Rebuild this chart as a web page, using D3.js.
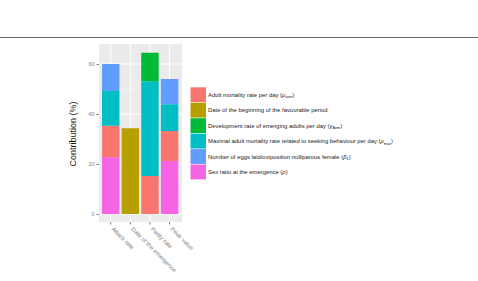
<!DOCTYPE html>
<html>
<head>
<meta charset="UTF-8">
<script src="https://cdn.jsdelivr.net/npm/d3@7"></script>
<style>
  body { margin: 0; background: #fff; }
  text { font-family: "Liberation Sans", Arial, sans-serif; }
</style>
</head>
<body>
<svg width="478" height="281"></svg>
<script>
// categories on x
const categories = ['Attack rate', 'Date of the emergence', 'Parity rate', 'Peak value'];

// legend / parameter names (ggplot default hue order)
const params = ['mort', 'date', 'dev', 'max', 'eggs', 'sex'];
const paramColors = ['#F8766D', '#B79F00', '#00BA38', '#00BFC4', '#619CFF', '#F564E3'];

// stacked segments per bar, bottom to top
const attackRate = [['sex', 22.7], ['mort', 12.6], ['max', 13.9], ['eggs', 10.8]];
const dateEmergence = [['date', 34.3]];
const parityRate = [['mort', 15.2], ['max', 37.9], ['dev', 11.4]];
const peakValue = [['sex', 21.2], ['mort', 12.0], ['max', 10.7], ['eggs', 10.1]];
const barSegments = [attackRate, dateEmergence, parityRate, peakValue];

const yTicks = [0, 20, 40, 60];
const yMinor = [10, 30, 50];

const svg = d3.select('svg');

// rule across top of page
svg.append('line')
  .attr('x1', 0).attr('x2', 478).attr('y1', 37.5).attr('y2', 37.5)
  .attr('stroke', '#666').attr('stroke-width', 1);

// panel
const panel = { left: 99, right: 182, top: 44, bottom: 222 };
const x = d3.scaleBand().domain(categories).range([102, 178.3]).paddingInner(0.11);
const y = d3.scaleLinear().domain([0, 60]).range([214, 64]);
const color = d3.scaleOrdinal().domain(params).range(paramColors);

svg.append('rect')
  .attr('x', panel.left).attr('y', panel.top)
  .attr('width', panel.right - panel.left).attr('height', panel.bottom - panel.top)
  .attr('fill', '#ebebeb');

// grid
svg.append('g').selectAll('line').data(yMinor).join('line')
  .attr('x1', panel.left).attr('x2', panel.right)
  .attr('y1', d => y(d)).attr('y2', d => y(d))
  .attr('stroke', '#f5f5f5').attr('stroke-width', 0.5);
svg.append('g').selectAll('line').data(yTicks).join('line')
  .attr('x1', panel.left).attr('x2', panel.right)
  .attr('y1', d => y(d)).attr('y2', d => y(d))
  .attr('stroke', '#fff').attr('stroke-width', 1);
svg.append('g').selectAll('line').data(categories).join('line')
  .attr('x1', d => x(d) + x.bandwidth() / 2).attr('x2', d => x(d) + x.bandwidth() / 2)
  .attr('y1', panel.top).attr('y2', panel.bottom)
  .attr('stroke', '#fff').attr('stroke-width', 1);

// stacked bars
categories.forEach((c, i) => {
  let base = 0;
  const segs = barSegments[i].map(([p, v]) => {
    const s = { p, y0: base, y1: base + v };
    base += v;
    return s;
  });
  svg.append('g').selectAll('rect').data(segs).join('rect')
    .attr('x', x(c)).attr('width', x.bandwidth())
    .attr('y', d => y(d.y1)).attr('height', d => y(d.y0) - y(d.y1))
    .attr('fill', d => color(d.p));
});

// y axis
const yAxis = svg.append('g')
  .attr('transform', `translate(${panel.left},0)`)
  .call(d3.axisLeft(y).tickValues(yTicks).tickSize(2.5).tickPadding(2));
yAxis.select('.domain').remove();
yAxis.selectAll('line').attr('stroke', '#7f7f7f');
yAxis.selectAll('text').attr('fill', '#7f7f7f').attr('font-size', '5.5px');

// x axis
const xAxis = svg.append('g')
  .attr('transform', `translate(0,${panel.bottom})`)
  .call(d3.axisBottom(x).tickSize(2.5).tickPadding(0));
xAxis.select('.domain').remove();
xAxis.selectAll('line').attr('stroke', '#7f7f7f');
xAxis.selectAll('text')
  .attr('fill', '#7f7f7f').attr('font-size', '6px')
  .attr('text-anchor', 'start')
  .attr('transform', 'translate(2,6) rotate(45)')
  .attr('dy', '0.35em').attr('y', 0);

// y title
svg.append('text')
  .attr('transform', 'translate(76,134) rotate(-90)')
  .attr('text-anchor', 'middle')
  .attr('font-size', '9px').attr('fill', '#111')
  .text('Contribution (%)');

// legend
const legendItems = [
  ['Adult mortality rate per day (', 'μ', 'asm', ')'],
  ['Date of the beginning of the favourable period', '', '', ''],
  ['Development rate of emerging adults per day (', 'γ', 'Aem', ')'],
  ['Maximal adult mortality rate related to seeking behaviour per day (', 'μ', 'max', ')'],
  ['Number of eggs laid/oviposition nulliparous female (', 'β', '1', ')'],
  ['Sex ratio at the emergence (', 'ρ', '', ')']
];
const keyH = 15.45;
const lg = svg.append('g').attr('transform', 'translate(190.5,87.3)');
legendItems.forEach((it, i) => {
  const g = lg.append('g').attr('transform', `translate(0,${i * keyH})`);
  g.append('rect').attr('width', 15.5).attr('height', keyH - 0.6)
    .attr('fill', paramColors[i]);
  const t = g.append('text').attr('x', 17.5).attr('y', keyH / 2 + 2)
    .attr('font-size', '5.9px').attr('fill', '#222');
  t.append('tspan').text(it[0]);
  if (it[1]) t.append('tspan').attr('font-style', 'italic').text(it[1]);
  if (it[2]) t.append('tspan').attr('font-size', '3.8px').attr('dy', 1.2).text(it[2]);
  if (it[3]) t.append('tspan').attr('dy', it[2] ? -1.2 : 0).text(it[3]);
});
</script>
</body>
</html>
